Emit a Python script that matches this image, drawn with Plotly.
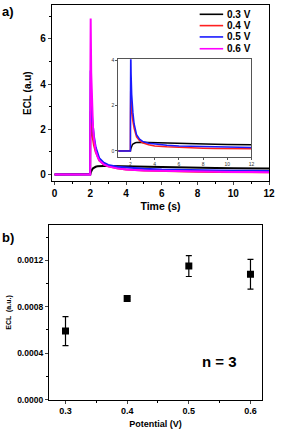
import plotly.graph_objects as go

# ---- Panel a data (ECL transients) ----
t = [0, 1.0, 1.99, 2.0, 2.02, 2.05, 2.1, 2.15, 2.2, 2.3, 2.4, 2.5, 2.75, 3.0, 3.5, 4.0, 5.0, 6.0, 7.0, 8.0, 9.0, 10.0, 11.0, 12.0]
ecl_03 = [0, 0, 0, 0.02, 0.08, 0.15, 0.22, 0.27, 0.30, 0.34, 0.36, 0.37, 0.38, 0.38, 0.37, 0.36, 0.34, 0.32, 0.31, 0.30, 0.29, 0.28, 0.28, 0.27]
ecl_04 = [0, 0, 0, 1.5, 2.8, 2.3, 1.8, 1.5, 1.3, 1.0, 0.78, 0.62, 0.45, 0.36, 0.27, 0.22, 0.18, 0.15, 0.14, 0.12, 0.11, 0.11, 0.10, 0.10]
ecl_05 = [0, 0, 0, 2.5, 4.6, 3.4, 2.5, 2.0, 1.7, 1.2, 0.9, 0.72, 0.52, 0.42, 0.34, 0.30, 0.25, 0.22, 0.20, 0.19, 0.18, 0.17, 0.16, 0.15]
ecl_06 = [0, 0, 0, 4.0, 6.9, 4.5, 3.0, 2.1, 1.6, 1.05, 0.8, 0.62, 0.45, 0.36, 0.27, 0.22, 0.18, 0.16, 0.14, 0.13, 0.12, 0.11, 0.11, 0.10]
series_names = ["0.3 V", "0.4 V", "0.5 V", "0.6 V"]
series_colors = ["#000000", "#ff2020", "#1a1aff", "#ff00ff"]

# ---- Panel b data (ECL vs potential) ----
potential = [0.3, 0.4, 0.5, 0.6]
ecl_mean = [0.00059, 0.00087, 0.00115, 0.00108]
ecl_err = [0.000125, 0.00001, 0.00009, 0.000128]

fig = go.Figure()
series = [ecl_03, ecl_04, ecl_05, ecl_06]

for name, col, y in zip(series_names, series_colors, series):
    fig.add_trace(go.Scatter(x=t, y=y, mode="lines", name=name, showlegend=False,
                             line=dict(color=col, width=2), xaxis="x", yaxis="y"))

# inset (0.3, 0.4, 0.5 V)
for name, col, y in zip(series_names[:3], series_colors[:3], series[:3]):
    fig.add_trace(go.Scatter(x=t, y=y, mode="lines", name=name, showlegend=False,
                             line=dict(color=col, width=1.5), xaxis="x2", yaxis="y2"))

fig.add_trace(go.Scatter(x=potential, y=ecl_mean, mode="markers", showlegend=False,
                         marker=dict(symbol="square", size=7, color="black"),
                         error_y=dict(type="data", array=ecl_err, color="black", thickness=1.2, width=3),
                         xaxis="x3", yaxis="y3"))

bold = dict(family="Liberation Sans", weight="bold", color="black")

axis_common = dict(showline=True, linecolor="black", linewidth=1, mirror=True,
                   ticks="outside", showgrid=False, zeroline=False, ticklabeloverflow="allow")

W, H = 282, 440
shapes = []
annotations = [
    dict(text="a)", x=0.0, y=1.0, xref="paper", yref="paper", xanchor="left", yanchor="top",
         showarrow=False, font=dict(size=13, **bold)),
    dict(text="b)", x=0.0, y=0.478, xref="paper", yref="paper", xanchor="left", yanchor="top",
         showarrow=False, font=dict(size=13, **bold)),
    dict(text="n = 3", x=0.55, y=0.00033, xref="x3", yref="y3", xanchor="center", yanchor="middle",
         showarrow=False, font=dict(size=15, **bold)),
]
# manual legend
leg_y = [12.5, 24, 35.5, 47.5]
for name, col, yy in zip(series_names, series_colors, leg_y):
    yp = 1 - yy / H
    shapes.append(dict(type="line", xref="paper", yref="paper", x0=204 / W, x1=228 / W, y0=yp, y1=yp,
                       line=dict(color=col, width=1.6)))
    annotations.append(dict(text=name, x=230 / W, y=yp, xref="paper", yref="paper", xanchor="left",
                            yanchor="middle", showarrow=False, font=dict(size=10, **bold)))

fig.update_layout(
    width=W, height=H,
    margin=dict(l=0, r=0, t=0, b=0),
    paper_bgcolor="white", plot_bgcolor="white",
    showlegend=False,
    xaxis=dict(domain=[0.188, 0.975], anchor="y", range=[-0.15, 12], dtick=2,
               tickfont=dict(size=10, **bold), ticklen=3,
               minor=dict(dtick=1, ticks="outside", ticklen=2, tickcolor="black"),
               title=dict(text="Time (s)", font=dict(size=10.5, **bold), standoff=4), **axis_common),
    yaxis=dict(domain=[0.586, 0.993], anchor="x", range=[-0.3, 7.5], dtick=2,
               tickfont=dict(size=10, **bold), ticklen=3,
               minor=dict(dtick=1, ticks="outside", ticklen=2, tickcolor="black"),
               title=dict(text="ECL (a.u)", font=dict(size=10, **bold), standoff=6), **axis_common),
    xaxis2=dict(domain=[0.429, 0.911], anchor="y2", range=[1, 12], dtick=2,
                tickfont=dict(size=5, family="Liberation Sans", color="#333"), ticklen=2,
                showline=True, linecolor="#555", linewidth=1, mirror=True, ticks="outside",
                tickcolor="#555", showgrid=False, zeroline=False),
    yaxis2=dict(domain=[0.643, 0.868], anchor="x2", range=[-0.25, 4.05], dtick=2,
                tickfont=dict(size=5, family="Liberation Sans", color="#333"), ticklen=2,
                showline=True, linecolor="#555", linewidth=1, mirror=True, ticks="outside",
                tickcolor="#555", showgrid=False, zeroline=False),
    xaxis3=dict(domain=[0.177, 0.950], anchor="y3", range=[0.273, 0.619], dtick=0.1,
                tickformat=".1f", tickfont=dict(size=9, **bold), ticklen=3,
                minor=dict(dtick=0.05, ticks="outside", ticklen=2, tickcolor="black"),
                title=dict(text="Potential (V)", font=dict(size=9, **bold), standoff=5), **axis_common),
    yaxis3=dict(domain=[0.0818, 0.484], anchor="x3", range=[0, 0.0015], dtick=0.0004,
                tickformat=".4f", tickfont=dict(size=8.5, **bold), ticklen=3,
                minor=dict(dtick=0.0002, ticks="outside", ticklen=2, tickcolor="black"),
                title=dict(text="ECL  (a.u.)", font=dict(size=7, **bold), standoff=4), **axis_common),
    shapes=shapes,
    annotations=annotations,
)

fig.write_html("out.html", config={"displayModeBar": False},
               post_script="document.body.style.margin='0';document.body.style.overflow='hidden';")
